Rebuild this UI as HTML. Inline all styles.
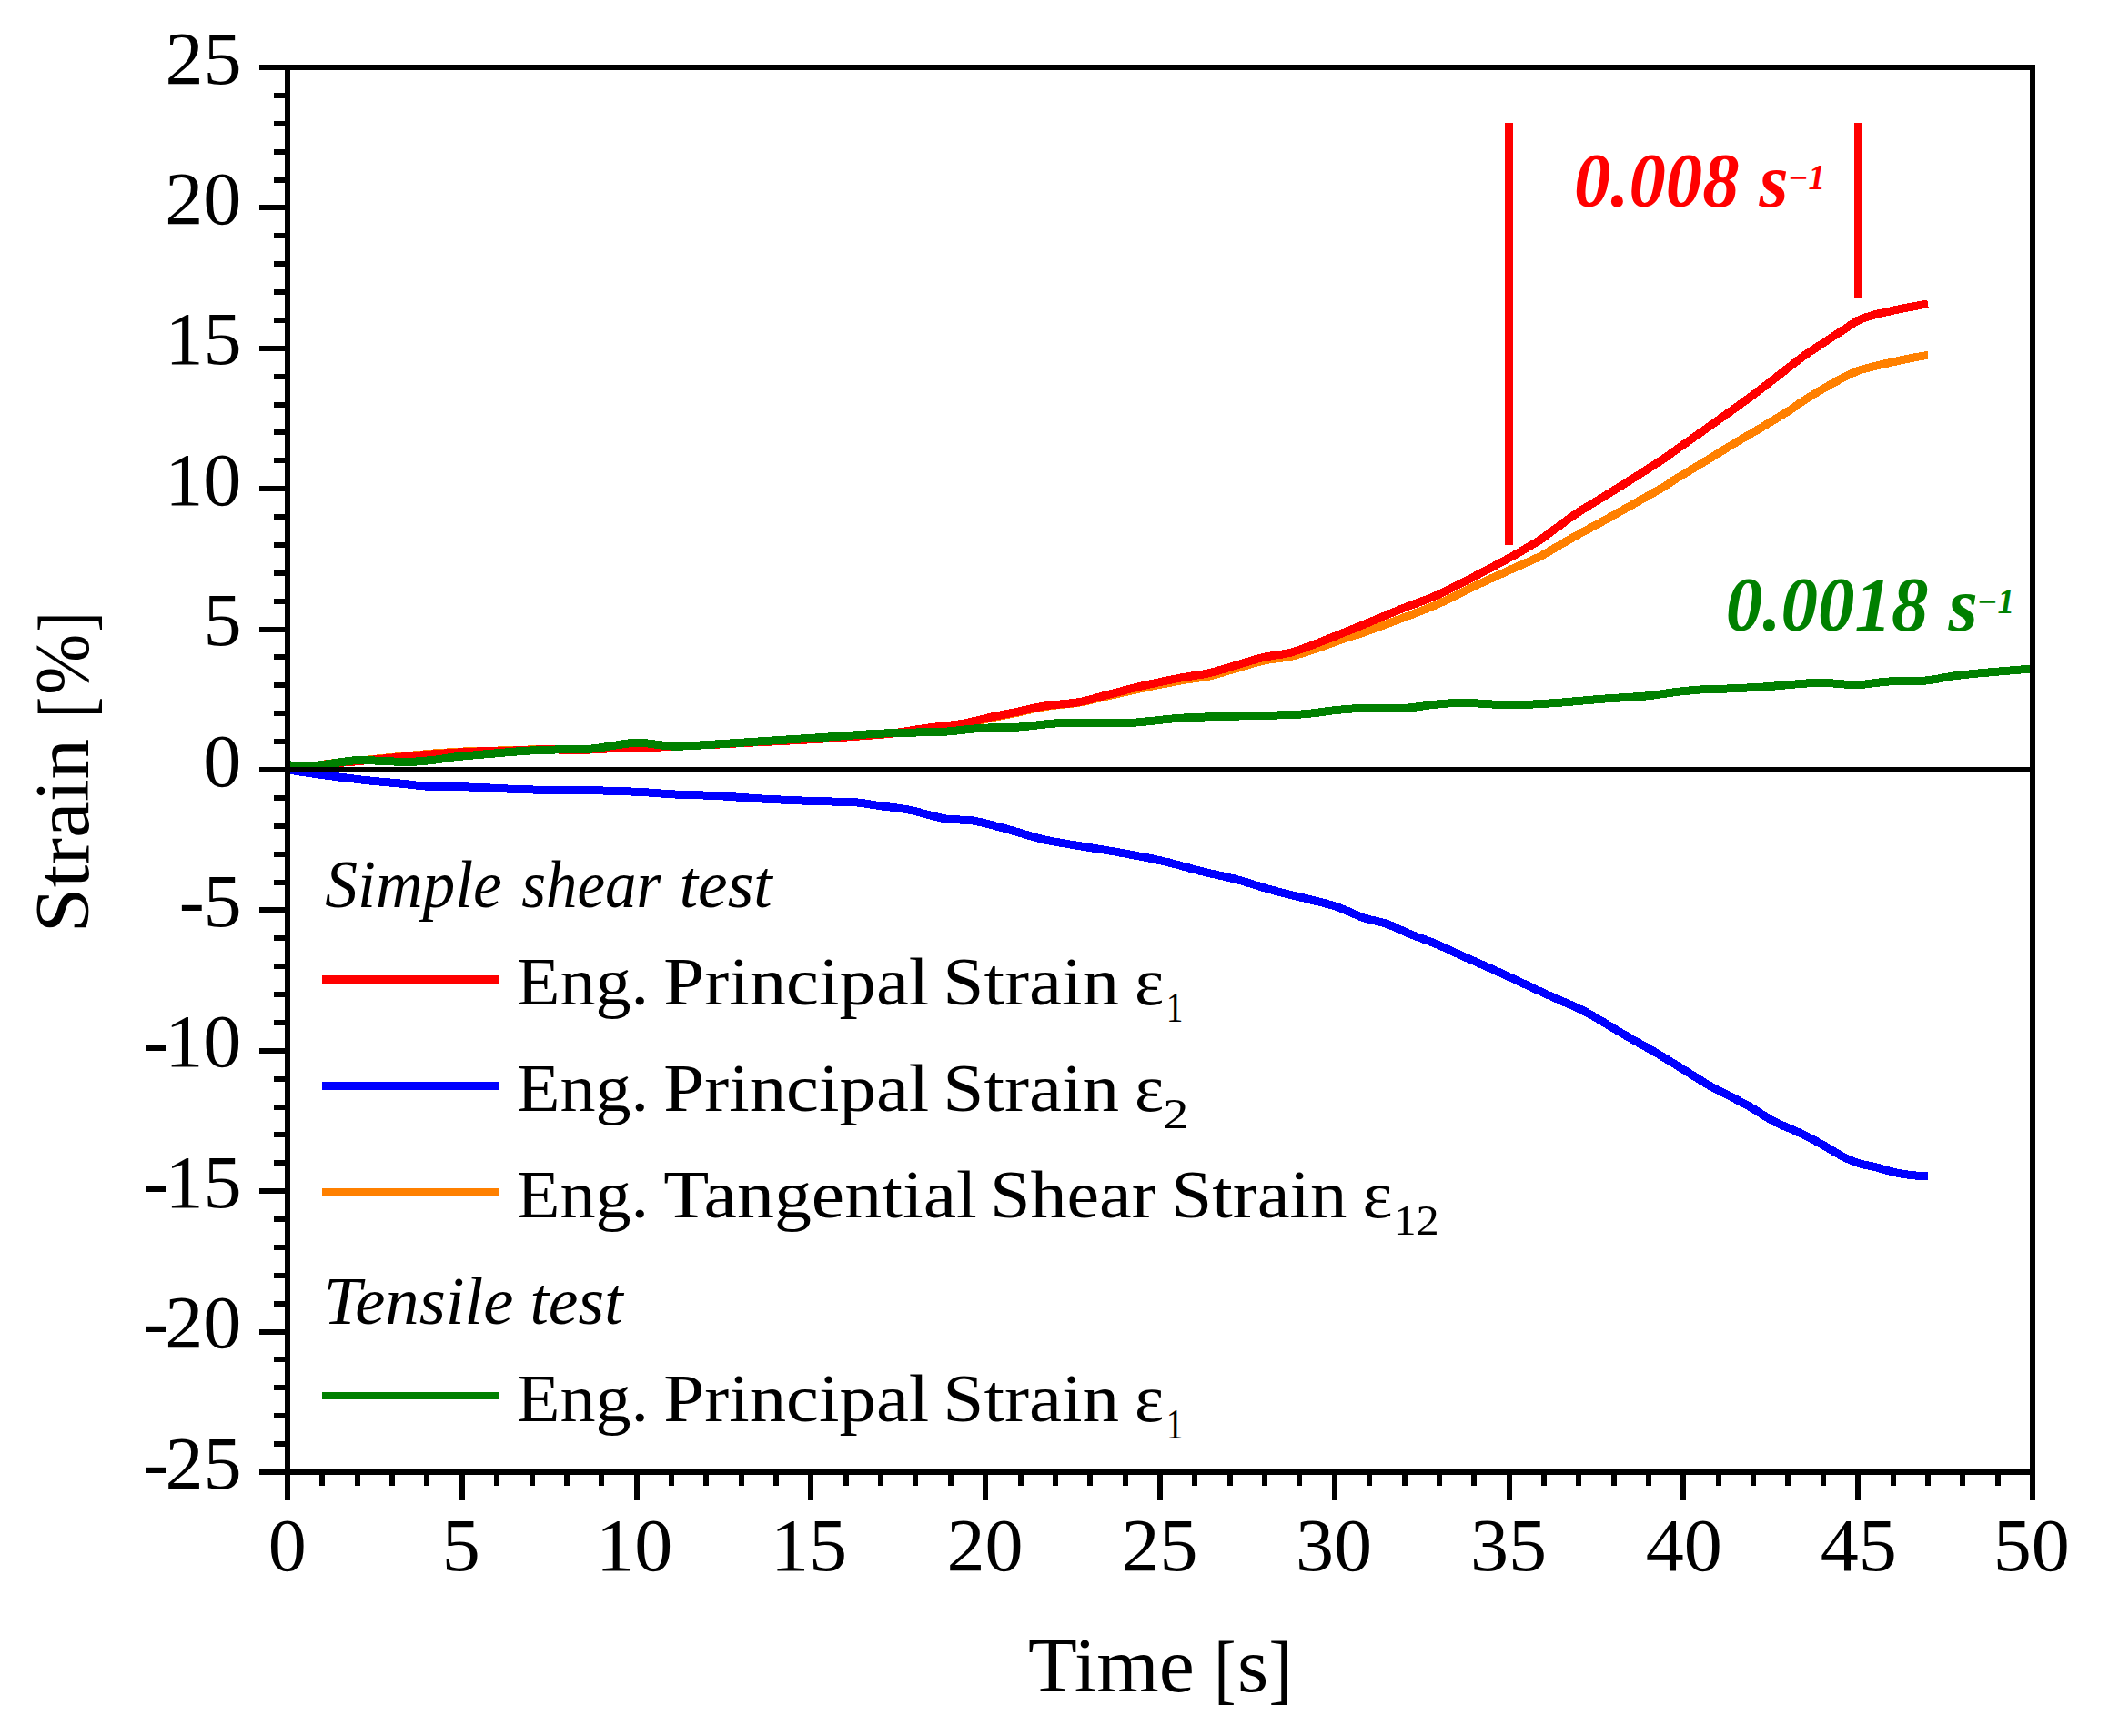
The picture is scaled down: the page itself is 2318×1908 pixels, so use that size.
<!DOCTYPE html>
<html lang="en"><head><meta charset="utf-8"><title>Strain vs Time</title>
<style>html,body{margin:0;padding:0;background:#fff}svg{display:block}text{white-space:pre}</style></head>
<body>
<svg width="2318" height="1908" viewBox="0 0 2318 1908" font-family="&quot;Liberation Serif&quot;, serif" shape-rendering="crispEdges">
<rect width="2318" height="1908" fill="#fff"/>
<clipPath id="c"><rect x="316.0" y="74.0" width="1918.0" height="1544.0"/></clipPath>
<g clip-path="url(#c)" fill="none" stroke-linejoin="round" stroke-width="9.0">
<path d="M316.0,846.0C323.3,844.9 347.4,841.1 359.7,839.5C372.0,837.9 376.3,837.8 389.6,836.5C402.9,835.2 424.5,833.0 439.4,831.5C454.3,830.0 465.9,828.8 479.2,827.8C492.5,826.8 505.8,826.1 519.1,825.6C532.4,825.1 545.6,825.1 558.9,824.8C572.2,824.4 585.4,823.6 598.7,823.5C612.0,823.4 625.3,824.2 638.6,824.0C651.9,823.8 666.5,822.8 678.4,822.4C690.3,822.0 699.8,822.1 710.0,821.8C720.2,821.4 728.2,820.8 739.8,820.3C751.4,819.8 763.1,819.4 779.7,818.6C796.3,817.8 819.5,816.4 839.4,815.4C859.3,814.4 882.6,813.4 899.2,812.4C915.8,811.4 925.7,810.4 939.0,809.4C952.3,808.4 965.5,807.8 978.8,806.4C992.1,805.0 1005.3,802.5 1018.6,800.8C1031.9,799.1 1046.9,797.9 1058.5,796.0C1070.1,794.1 1079.7,791.1 1088.3,789.3C1096.9,787.5 1099.8,787.1 1110.0,785.0C1120.2,782.9 1137.2,778.6 1149.8,776.5C1162.4,774.4 1174.0,774.2 1185.6,772.2C1197.2,770.2 1207.2,767.3 1219.5,764.5C1231.8,761.7 1246.0,758.4 1259.3,755.6C1272.6,752.8 1287.6,749.9 1299.2,747.8C1310.8,745.7 1319.0,745.3 1329.0,743.1C1339.0,740.9 1348.9,737.4 1358.9,734.6C1368.9,731.8 1378.8,728.3 1388.8,726.1C1398.8,723.9 1408.6,723.8 1418.6,721.5C1428.5,719.2 1438.5,715.5 1448.5,712.2C1458.5,708.9 1469.8,704.4 1478.4,701.5C1487.0,698.6 1489.8,698.3 1500.0,694.7C1510.2,691.1 1526.5,684.9 1539.8,679.9C1553.1,674.8 1566.4,670.1 1579.7,664.2C1593.0,658.4 1606.2,651.0 1619.5,644.7C1632.8,638.5 1647.7,631.8 1659.3,626.5C1670.9,621.3 1682.2,616.5 1689.0,613.3C1695.8,610.1 1692.8,611.6 1700.0,607.5C1707.2,603.4 1721.5,594.8 1732.3,588.8C1743.0,582.8 1753.8,577.3 1764.5,571.3C1775.2,565.4 1786.0,559.3 1796.8,553.2C1807.5,547.1 1821.8,539.2 1829.0,534.9C1836.2,530.7 1832.8,532.1 1840.0,527.6C1847.2,523.1 1861.5,514.7 1872.3,508.2C1883.0,501.6 1893.8,494.8 1904.5,488.4C1915.2,481.9 1926.0,475.9 1936.8,469.4C1947.5,463.0 1961.8,454.2 1969.0,449.7C1976.2,445.1 1974.1,445.7 1980.0,441.9C1985.9,438.2 1996.1,431.7 2004.2,427.0C2012.3,422.3 2021.7,417.2 2028.4,413.8C2035.1,410.5 2039.1,408.6 2044.5,406.7C2049.9,404.9 2053.9,404.2 2060.6,402.5C2067.3,400.9 2076.7,398.6 2084.8,396.9C2092.9,395.1 2103.3,393.0 2109.0,392.0C2114.7,390.9 2117.3,390.7 2119.0,390.5" stroke="#ff8000"/>
<path d="M316.0,846.0C323.3,845.0 347.4,841.2 359.7,839.7C372.0,838.2 376.3,838.2 389.6,837.0C402.9,835.8 424.5,833.6 439.4,832.2C454.3,830.8 465.9,829.6 479.2,828.6C492.5,827.6 505.8,826.8 519.1,826.2C532.4,825.6 545.6,825.6 558.9,825.2C572.2,824.8 585.4,823.9 598.7,823.8C612.0,823.7 625.3,824.6 638.6,824.4C651.9,824.2 666.5,822.8 678.4,822.4C690.3,822.0 699.8,822.1 710.0,821.8C720.2,821.4 728.2,820.8 739.8,820.3C751.4,819.8 763.1,819.4 779.7,818.6C796.3,817.8 819.5,816.4 839.4,815.4C859.3,814.4 882.6,813.4 899.2,812.4C915.8,811.4 925.7,810.4 939.0,809.4C952.3,808.4 965.5,807.7 978.8,806.2C992.1,804.7 1005.3,802.0 1018.6,800.2C1031.9,798.4 1046.9,797.2 1058.5,795.2C1070.1,793.2 1079.7,790.2 1088.3,788.3C1096.9,786.4 1099.8,786.1 1110.0,784.0C1120.2,781.9 1137.2,777.8 1149.8,775.7C1162.4,773.7 1174.0,773.8 1185.6,771.7C1197.2,769.6 1207.2,766.1 1219.5,763.0C1231.8,759.9 1246.0,756.0 1259.3,753.0C1272.6,750.0 1287.6,746.9 1299.2,744.7C1310.8,742.5 1319.0,742.0 1329.0,739.7C1339.0,737.4 1348.9,734.0 1358.9,731.1C1368.9,728.2 1378.8,724.7 1388.8,722.4C1398.8,720.1 1408.6,719.8 1418.6,717.2C1428.5,714.6 1438.5,710.4 1448.5,706.6C1458.5,702.9 1469.8,698.1 1478.4,694.7C1487.0,691.3 1489.8,690.2 1500.0,686.0C1510.2,681.8 1526.5,674.8 1539.8,669.4C1553.1,664.1 1566.4,659.9 1579.7,654.0C1593.0,648.1 1606.2,640.9 1619.5,634.1C1632.8,627.2 1647.7,619.4 1659.3,613.0C1670.9,606.6 1682.2,599.8 1689.0,595.7C1695.8,591.5 1692.8,593.4 1700.0,588.2C1707.2,583.0 1721.5,571.9 1732.3,564.6C1743.0,557.4 1753.8,551.4 1764.5,544.8C1775.2,538.1 1786.0,531.4 1796.8,524.6C1807.5,517.8 1821.8,508.6 1829.0,503.9C1836.2,499.1 1832.8,501.1 1840.0,496.0C1847.2,490.9 1861.5,480.8 1872.3,473.2C1883.0,465.6 1893.8,458.1 1904.5,450.3C1915.2,442.6 1924.2,436.2 1936.8,426.6C1949.4,417.1 1968.8,401.4 1980.0,393.1C1991.2,384.8 1996.1,382.3 2004.2,376.9C2012.3,371.5 2022.9,364.6 2028.4,361.0C2033.9,357.4 2034.3,356.9 2037.0,355.3C2039.7,353.6 2040.6,352.7 2044.5,351.1C2048.4,349.5 2053.9,347.6 2060.6,345.8C2067.3,344.1 2076.7,342.0 2084.8,340.4C2092.9,338.7 2103.3,336.8 2109.0,335.7C2114.7,334.7 2117.3,334.3 2119.0,334.0" stroke="#ff0000"/>
<path d="M316.0,846.0C323.3,847.0 345.8,850.4 359.7,852.3C373.6,854.2 386.3,855.8 399.6,857.3C412.9,858.8 427.8,859.9 439.4,861.0C451.0,862.1 459.4,863.6 469.3,864.2C479.2,864.8 487.5,864.1 499.1,864.4C510.7,864.7 527.4,865.5 539.0,866.0C550.6,866.5 558.9,867.2 568.9,867.6C578.9,868.0 587.1,868.0 598.7,868.2C610.3,868.4 625.3,868.4 638.6,868.6C651.9,868.8 666.5,869.0 678.4,869.4C690.3,869.8 699.8,870.2 710.0,870.8C720.2,871.4 726.5,872.2 739.8,872.9C753.1,873.5 773.0,873.8 789.6,874.7C806.2,875.6 821.1,877.1 839.4,878.1C857.7,879.1 882.6,880.1 899.2,880.7C915.8,881.3 927.4,880.8 939.0,881.7C950.6,882.6 958.8,884.5 968.8,885.9C978.8,887.3 987.1,887.7 998.7,890.0C1010.3,892.3 1027.0,897.8 1038.6,899.8C1050.2,901.8 1058.5,900.3 1068.4,901.8C1078.4,903.3 1089.7,906.7 1098.3,908.9C1106.9,911.1 1111.4,912.6 1120.0,915.0C1128.6,917.4 1138.2,920.8 1149.8,923.3C1161.4,925.8 1176.3,928.0 1189.6,930.2C1202.9,932.5 1214.5,934.1 1229.4,936.8C1244.3,939.5 1264.2,943.2 1279.2,946.6C1294.2,950.0 1305.8,954.0 1319.1,957.3C1332.4,960.6 1345.6,963.0 1358.9,966.5C1372.2,970.0 1385.4,974.8 1398.7,978.4C1412.0,982.0 1427.0,985.4 1438.6,988.4C1450.2,991.4 1458.3,992.9 1468.4,996.3C1478.5,999.7 1489.8,1005.6 1499.0,1008.8C1508.2,1012.0 1515.4,1012.4 1523.9,1015.3C1532.4,1018.3 1540.5,1022.8 1549.8,1026.6C1559.1,1030.4 1569.8,1033.9 1579.7,1038.0C1589.7,1042.2 1599.5,1047.2 1609.5,1051.6C1619.5,1056.1 1629.4,1060.3 1639.4,1064.8C1649.4,1069.3 1659.3,1074.0 1669.3,1078.6C1679.2,1083.2 1687.5,1087.2 1699.1,1092.5C1710.7,1097.8 1729.0,1105.4 1739.0,1110.2C1749.0,1115.0 1750.6,1116.6 1758.9,1121.4C1767.2,1126.3 1778.8,1133.5 1788.8,1139.3C1798.8,1145.1 1808.6,1150.3 1818.6,1156.1C1828.5,1162.0 1838.5,1168.2 1848.5,1174.3C1858.5,1180.5 1870.0,1188.0 1878.4,1192.9C1886.8,1197.7 1891.3,1199.5 1899.0,1203.5C1906.7,1207.6 1916.3,1212.4 1924.7,1217.2C1933.1,1222.0 1941.1,1228.0 1949.3,1232.4C1957.5,1236.7 1965.8,1239.4 1974.0,1243.3C1982.2,1247.1 1990.4,1251.1 1998.6,1255.6C2006.8,1260.0 2016.1,1266.2 2023.3,1270.0C2030.5,1273.7 2035.6,1276.2 2041.8,1278.2C2048.0,1280.3 2053.1,1280.6 2060.3,1282.4C2067.5,1284.3 2077.7,1287.6 2084.9,1289.2C2092.1,1290.7 2097.7,1291.2 2103.4,1291.8C2109.1,1292.4 2116.4,1292.7 2119.0,1292.9" stroke="#0000ff"/>
</g>
<g clip-path="url(#c)" fill="none" stroke-linejoin="round" stroke-width="9.0">
<path d="M316.0,840.5C320.0,840.8 327.5,843.0 339.8,842.2C352.1,841.4 377.7,836.8 389.6,835.8C401.6,834.8 401.5,835.7 411.5,836.0C421.5,836.3 438.1,837.6 449.4,837.4C460.7,837.2 470.9,835.9 479.2,835.0C487.5,834.1 489.1,833.1 499.1,832.0C509.1,830.9 525.7,829.5 539.0,828.4C552.3,827.3 565.5,826.0 578.8,825.2C592.1,824.4 607.0,824.1 618.6,823.8C630.2,823.5 638.5,824.0 648.5,823.2C658.5,822.4 669.4,820.0 678.4,818.8C687.4,817.6 692.1,816.0 702.3,816.2C712.5,816.4 726.9,819.7 739.8,820.1C752.7,820.5 763.1,819.3 779.7,818.4C796.3,817.5 819.5,815.9 839.4,814.6C859.3,813.3 879.3,812.1 899.2,810.8C919.1,809.5 942.3,807.5 958.9,806.6C975.5,805.7 985.4,805.6 998.7,805.2C1012.0,804.8 1027.0,804.9 1038.6,804.2C1050.2,803.5 1058.5,802.0 1068.4,801.2C1078.4,800.4 1089.7,799.8 1098.3,799.4C1106.9,799.0 1109.8,799.7 1120.0,799.0C1130.2,798.3 1148.1,795.8 1159.7,795.0C1171.3,794.2 1176.3,794.5 1189.6,794.5C1202.9,794.5 1221.1,795.6 1239.4,794.7C1257.7,793.8 1279.3,790.4 1299.2,789.1C1319.1,787.8 1337.3,787.8 1358.9,787.1C1380.5,786.4 1410.3,786.2 1428.6,785.1C1446.8,784.0 1456.8,781.6 1468.4,780.5C1480.0,779.4 1489.7,778.7 1498.3,778.3C1506.9,777.9 1512.1,778.3 1520.0,778.3C1527.9,778.3 1535.8,778.9 1545.8,778.2C1555.8,777.5 1569.1,775.0 1579.7,774.0C1590.3,773.0 1599.5,772.2 1609.5,772.2C1619.5,772.2 1629.4,773.6 1639.4,774.0C1649.4,774.4 1657.7,774.8 1669.3,774.6C1680.9,774.4 1694.2,773.6 1709.1,772.6C1724.0,771.6 1742.3,769.7 1758.9,768.4C1775.5,767.1 1795.4,766.2 1808.7,765.0C1822.0,763.8 1828.6,762.2 1838.6,761.0C1848.5,759.8 1858.5,758.7 1868.4,758.0C1878.4,757.3 1889.7,757.3 1898.3,757.0C1906.9,756.7 1912.8,756.4 1920.0,756.0C1927.2,755.6 1932.4,755.5 1941.5,754.8C1950.6,754.1 1964.5,752.6 1974.7,751.9C1984.9,751.1 1991.8,750.2 2002.9,750.3C2014.0,750.4 2029.2,752.8 2041.1,752.6C2053.0,752.4 2061.9,749.9 2074.3,749.1C2086.7,748.4 2103.3,749.2 2115.7,748.1C2128.1,747.0 2137.8,744.2 2148.9,742.7C2160.0,741.2 2171.0,740.3 2182.1,739.3C2193.2,738.3 2205.7,737.3 2215.3,736.5C2225.0,735.7 2235.9,734.7 2240.0,734.3" stroke="#008000"/>
</g>
<rect x="1654.3" y="135" width="9" height="463.6" fill="#ff0000"/>
<rect x="2037.9" y="135" width="9" height="193" fill="#ff0000"/>
<rect x="316.0" y="843.0" width="1918.0" height="6" fill="#000"/>
<rect x="316.0" y="74.0" width="1918.0" height="1544.0" fill="none" stroke="#000" stroke-width="6"/>
<path d="M285,1618.00H313M301,1587.12H313M301,1556.24H313M301,1525.36H313M301,1494.48H313M285,1463.60H313M301,1432.72H313M301,1401.84H313M301,1370.96H313M301,1340.08H313M285,1309.20H313M301,1278.32H313M301,1247.44H313M301,1216.56H313M301,1185.68H313M285,1154.80H313M301,1123.92H313M301,1093.04H313M301,1062.16H313M301,1031.28H313M285,1000.40H313M301,969.52H313M301,938.64H313M301,907.76H313M301,876.88H313M285,846.00H313M301,815.12H313M301,784.24H313M301,753.36H313M301,722.48H313M285,691.60H313M301,660.72H313M301,629.84H313M301,598.96H313M301,568.08H313M285,537.20H313M301,506.32H313M301,475.44H313M301,444.56H313M301,413.68H313M285,382.80H313M301,351.92H313M301,321.04H313M301,290.16H313M301,259.28H313M285,228.40H313M301,197.52H313M301,166.64H313M301,135.76H313M301,104.88H313M285,74.00H313M316.00,1621V1648.6M354.36,1621V1632.6M392.72,1621V1632.6M431.08,1621V1632.6M469.44,1621V1632.6M507.80,1621V1648.6M546.16,1621V1632.6M584.52,1621V1632.6M622.88,1621V1632.6M661.24,1621V1632.6M699.60,1621V1648.6M737.96,1621V1632.6M776.32,1621V1632.6M814.68,1621V1632.6M853.04,1621V1632.6M891.40,1621V1648.6M929.76,1621V1632.6M968.12,1621V1632.6M1006.48,1621V1632.6M1044.84,1621V1632.6M1083.20,1621V1648.6M1121.56,1621V1632.6M1159.92,1621V1632.6M1198.28,1621V1632.6M1236.64,1621V1632.6M1275.00,1621V1648.6M1313.36,1621V1632.6M1351.72,1621V1632.6M1390.08,1621V1632.6M1428.44,1621V1632.6M1466.80,1621V1648.6M1505.16,1621V1632.6M1543.52,1621V1632.6M1581.88,1621V1632.6M1620.24,1621V1632.6M1658.60,1621V1648.6M1696.96,1621V1632.6M1735.32,1621V1632.6M1773.68,1621V1632.6M1812.04,1621V1632.6M1850.40,1621V1648.6M1888.76,1621V1632.6M1927.12,1621V1632.6M1965.48,1621V1632.6M2003.84,1621V1632.6M2042.20,1621V1648.6M2080.56,1621V1632.6M2118.92,1621V1632.6M2157.28,1621V1632.6M2195.64,1621V1632.6M2234.00,1621V1648.6" stroke="#000" stroke-width="6" fill="none"/>
<text transform="translate(0,1635.60) scale(1.02,1)" font-size="82.50" fill="#000"><tspan x="153.97" dy="-1">-</tspan><tspan x="177.86" dy="1">25</tspan></text>
<text transform="translate(0,1481.20) scale(1.02,1)" font-size="82.50" fill="#000"><tspan x="153.97" dy="-1">-</tspan><tspan x="177.65" dy="1">20</tspan></text>
<text transform="translate(0,1326.80) scale(1.02,1)" font-size="82.50" fill="#000"><tspan x="153.97" dy="-1">-</tspan><tspan x="177.86" dy="1">15</tspan></text>
<text transform="translate(0,1172.40) scale(1.02,1)" font-size="82.50" fill="#000"><tspan x="153.97" dy="-1">-</tspan><tspan x="177.65" dy="1">10</tspan></text>
<text transform="translate(0,1018.00) scale(1.02,1)" font-size="82.50" fill="#000"><tspan x="192.89" dy="-1">-</tspan><tspan x="219.11" dy="1">5</tspan></text>
<text transform="translate(223.28,863.60) scale(1.0200,1)" font-size="82.50" fill="#000">0</text>
<text transform="translate(223.49,709.20) scale(1.0200,1)" font-size="82.50" fill="#000">5</text>
<text transform="translate(181.21,554.80) scale(1.0200,1)" font-size="82.50" fill="#000">10</text>
<text transform="translate(181.42,400.40) scale(1.0200,1)" font-size="82.50" fill="#000">15</text>
<text transform="translate(181.21,246.00) scale(1.0200,1)" font-size="82.50" fill="#000">20</text>
<text transform="translate(181.42,91.60) scale(1.0200,1)" font-size="82.50" fill="#000">25</text>
<text transform="translate(294.66,1726.30) scale(1.0200,1)" font-size="82.50" fill="#000">0</text>
<text transform="translate(485.73,1726.30) scale(1.0200,1)" font-size="82.50" fill="#000">5</text>
<text transform="translate(655.12,1726.30) scale(1.0200,1)" font-size="82.50" fill="#000">10</text>
<text transform="translate(847.03,1726.30) scale(1.0200,1)" font-size="82.50" fill="#000">15</text>
<text transform="translate(1040.51,1726.30) scale(1.0200,1)" font-size="82.50" fill="#000">20</text>
<text transform="translate(1232.41,1726.30) scale(1.0200,1)" font-size="82.50" fill="#000">25</text>
<text transform="translate(1424.00,1726.30) scale(1.0200,1)" font-size="82.50" fill="#000">30</text>
<text transform="translate(1615.91,1726.30) scale(1.0200,1)" font-size="82.50" fill="#000">35</text>
<text transform="translate(1808.76,1726.30) scale(1.0200,1)" font-size="82.50" fill="#000">40</text>
<text transform="translate(2000.67,1726.30) scale(1.0200,1)" font-size="82.50" fill="#000">45</text>
<text transform="translate(2190.78,1726.30) scale(1.0200,1)" font-size="82.50" fill="#000">50</text>
<text transform="translate(1130.06,1859.10) scale(1.0482,1)" font-size="84.00" fill="#000">Time</text>
<text transform="translate(1334.34,1863.10) scale(0.8668,1)" font-size="84.00" fill="#000">[</text>
<text transform="translate(1359.98,1859.10) scale(1.0476,1)" font-size="84.00" fill="#000">s</text>
<text transform="translate(1394.44,1863.10) scale(0.9048,1)" font-size="84.00" fill="#000">]</text>
<text transform="rotate(-90) translate(-1025.23,96.50) scale(1.0643,1)" font-size="84.00" fill="#000">Strain</text>
<text transform="rotate(-90) translate(-789.19,100.50) scale(0.8400,1)" font-size="84.00" fill="#000">[</text>
<text transform="rotate(-90) translate(-763.72,96.50) scale(0.9586,1)" font-size="84.00" fill="#000">%</text>
<text transform="rotate(-90) translate(-694.26,100.50) scale(0.7672,1)" font-size="84.00" fill="#000">]</text>
<text transform="translate(357.31,996.70) scale(0.9531,1)" font-size="75.00" font-style="italic" fill="#000">Simple</text>
<text transform="translate(573.24,996.70) scale(0.9184,1)" font-size="75.00" font-style="italic" fill="#000">shear</text>
<text transform="translate(746.69,996.70) scale(0.9796,1)" font-size="75.00" font-style="italic" fill="#000">test</text>
<text transform="translate(355.44,1455.40) scale(0.9963,1)" font-size="75.00" font-style="italic" fill="#000">Tensile</text>
<text transform="translate(582.39,1455.40) scale(0.9815,1)" font-size="75.00" font-style="italic" fill="#000">test</text>
<rect x="354" y="1072.00" width="195" height="9" fill="#ff0000"/>
<rect x="354" y="1189.00" width="195" height="9" fill="#0000ff"/>
<rect x="354" y="1306.00" width="195" height="9" fill="#ff8000"/>
<rect x="354" y="1530.00" width="195" height="8" fill="#008000"/>
<text transform="translate(567.65,1104.10) scale(1.0425,1)" font-size="75.00" fill="#000">Eng.</text>
<text transform="translate(729.27,1104.10) scale(1.0787,1)" font-size="75.00" fill="#000">Principal</text>
<text transform="translate(1036.22,1104.10) scale(1.0828,1)" font-size="75.00" fill="#000">Strain</text>
<text transform="translate(1246.93,1104.10) scale(1.0213,1)" font-size="75.00" fill="#000">ε</text>
<text transform="translate(1282.10,1123.30) scale(0.7870,1)" font-size="46.50" fill="#000">1</text>
<text transform="translate(567.65,1221.00) scale(1.0425,1)" font-size="75.00" fill="#000">Eng.</text>
<text transform="translate(729.27,1221.00) scale(1.0787,1)" font-size="75.00" fill="#000">Principal</text>
<text transform="translate(1036.22,1221.00) scale(1.0828,1)" font-size="75.00" fill="#000">Strain</text>
<text transform="translate(1246.93,1221.00) scale(1.0213,1)" font-size="75.00" fill="#000">ε</text>
<text transform="translate(1278.27,1240.20) scale(1.2097,1)" font-size="46.50" fill="#000">2</text>
<text transform="translate(567.65,1338.10) scale(1.0425,1)" font-size="75.00" fill="#000">Eng.</text>
<text transform="translate(729.27,1338.10) scale(1.0923,1)" font-size="75.00" fill="#000">Tangential</text>
<text transform="translate(1087.89,1338.10) scale(1.0685,1)" font-size="75.00" fill="#000">Shear</text>
<text transform="translate(1287.24,1338.10) scale(1.0794,1)" font-size="75.00" fill="#000">Strain</text>
<text transform="translate(1497.46,1338.10) scale(1.0440,1)" font-size="75.00" fill="#000">ε</text>
<text transform="translate(1531.39,1357.30) scale(1.0834,1)" font-size="46.50" fill="#000">12</text>
<text transform="translate(567.65,1562.00) scale(1.0425,1)" font-size="75.00" fill="#000">Eng.</text>
<text transform="translate(729.27,1562.00) scale(1.0787,1)" font-size="75.00" fill="#000">Principal</text>
<text transform="translate(1036.22,1562.00) scale(1.0828,1)" font-size="75.00" fill="#000">Strain</text>
<text transform="translate(1246.93,1562.00) scale(1.0213,1)" font-size="75.00" fill="#000">ε</text>
<text transform="translate(1282.10,1581.20) scale(0.7870,1)" font-size="46.50" fill="#000">1</text>
<text transform="translate(1729.98,227.00) scale(0.9605,1)" font-size="84.00" font-weight="bold" font-style="italic" fill="#ff0000">0.008</text>
<text transform="translate(1933.41,227.00) scale(0.9819,1)" font-size="84.00" font-weight="bold" font-style="italic" fill="#ff0000">s</text>
<text transform="translate(1965.03,208.30) scale(0.9506,1)" font-size="39.00" font-weight="bold" font-style="italic" fill="#ff0000">−1</text>
<text transform="translate(1896.87,692.80) scale(0.9638,1)" font-size="84.00" font-weight="bold" font-style="italic" fill="#008000">0.0018</text>
<text transform="translate(2141.62,692.80) scale(0.9885,1)" font-size="84.00" font-weight="bold" font-style="italic" fill="#008000">s</text>
<text transform="translate(2172.82,674.10) scale(0.9562,1)" font-size="39.00" font-weight="bold" font-style="italic" fill="#008000">−1</text>
</svg>
</body></html>
